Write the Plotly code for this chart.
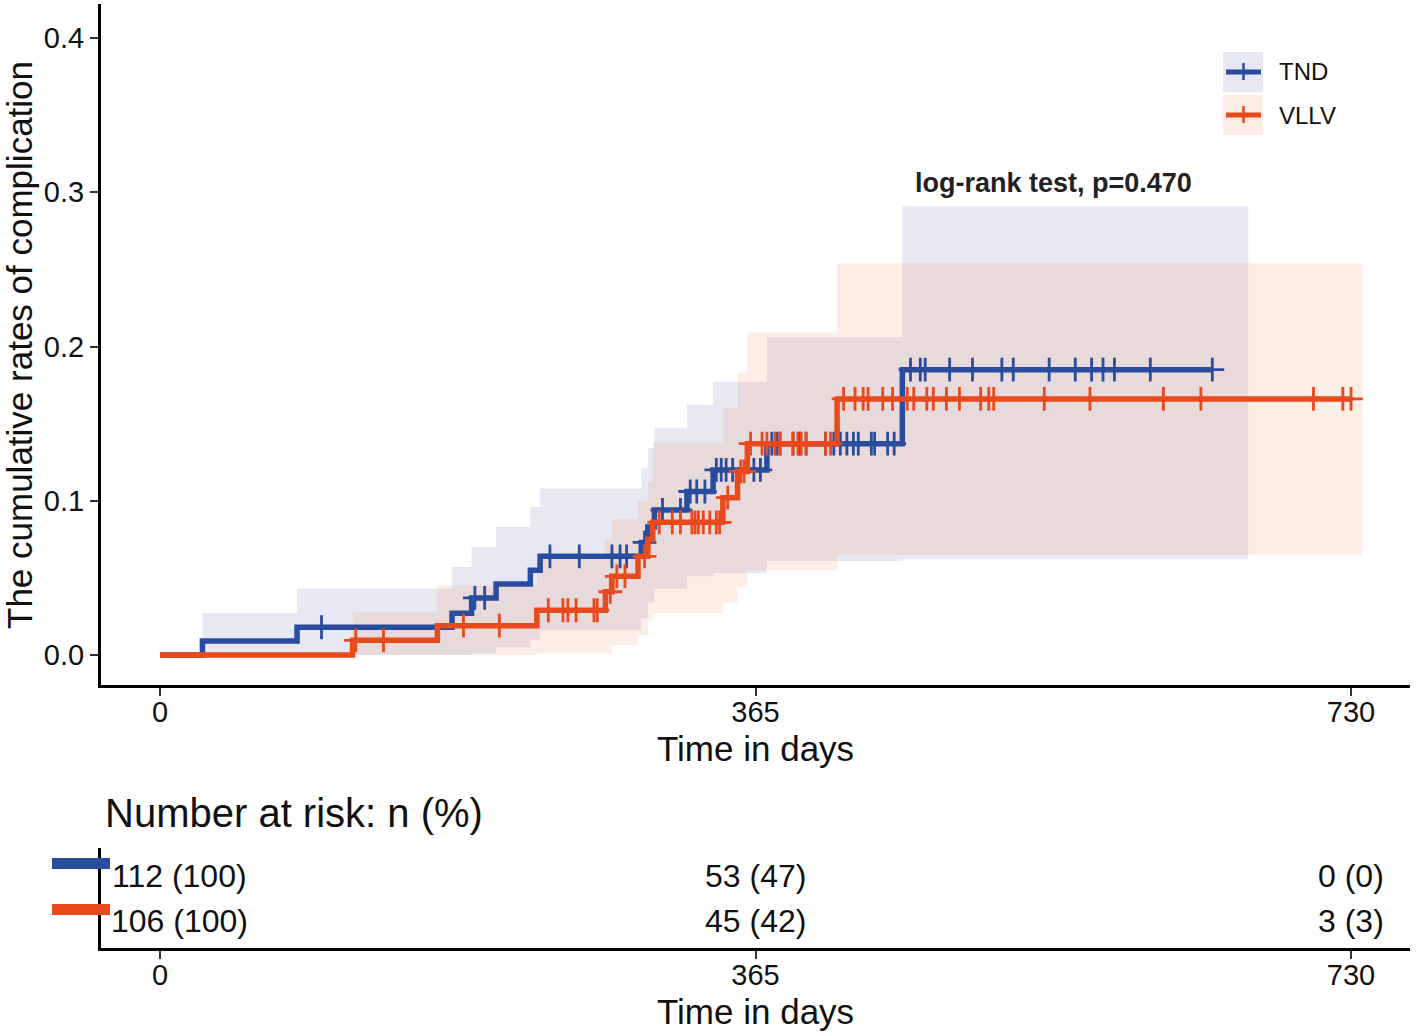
import numpy as np
import plotly.graph_objects as go

# ---------------- data ----------------
groups = ["TND", "VLLV"]

# Kaplan-Meier cumulative incidence steps (time in days, value)
tnd_t = [0, 26, 84, 179, 191, 206, 227, 233, 295, 299, 303, 323, 339, 372, 455]
tnd_y = [0, 0.009, 0.018, 0.027, 0.037, 0.046, 0.055, 0.064, 0.073, 0.083, 0.094, 0.106, 0.120, 0.137, 0.185]
tnd_end = 645

vllv_t = [0, 118, 170, 231, 273, 277, 293, 299, 302, 345, 354, 360, 415]
vllv_y = [0, 0.0095, 0.019, 0.029, 0.041, 0.051, 0.064, 0.075, 0.086, 0.102, 0.119, 0.137, 0.166]
vllv_end = 730

# censoring times
tnd_cens = [99, 193, 199, 239, 257, 277, 282, 286, 297, 308, 319, 325, 329, 334,
            341, 344, 347, 351, 364, 368,
            375, 378, 380, 388, 392, 396, 408, 413, 417, 421, 425, 428, 436, 438, 446, 450,
            460, 466, 469, 484, 498, 516, 523, 545, 561, 571, 578, 585, 607, 645]
vllv_cens = [120, 137, 186, 208, 238, 247, 250, 255, 266, 268, 276, 280, 285, 297,
             306, 314, 319, 326, 328, 330, 333, 337, 341, 343, 348, 356, 358,
             362, 369, 372, 377, 380, 388, 391, 393, 396, 408, 411,
             419, 426, 431, 434, 443, 449, 458, 462, 470, 474, 482, 490, 503, 508, 511,
             542, 570, 615, 638, 707, 725, 730]

# confidence bands (step starts, lower, upper)
tnd_band_t = [26, 84, 179, 191, 206, 227, 233, 295, 299, 303, 323, 339, 372, 455, 667]
tnd_band_lo = [0.0, 0.0, 0.0, 0.001, 0.005, 0.010, 0.016, 0.024, 0.034, 0.043, 0.051, 0.053, 0.061, 0.062, 0.062]
tnd_band_hi = [0.027, 0.043, 0.057, 0.070, 0.083, 0.096, 0.108, 0.121, 0.134, 0.147, 0.162, 0.177, 0.206, 0.291, 0.291]

vllv_band_t = [118, 170, 231, 273, 277, 293, 299, 302, 345, 354, 360, 415, 737]
vllv_band_lo = [0.0, 0.0, 0.001, 0.001, 0.0065, 0.013, 0.023, 0.027, 0.034, 0.044, 0.055, 0.065, 0.065]
vllv_band_hi = [0.028, 0.045, 0.062, 0.075, 0.088, 0.100, 0.112, 0.138, 0.160, 0.183, 0.209, 0.254, 0.254]

# number at risk table
risk_times = [0, 365, 730]
tnd_risk = ["112 (100)", "53 (47)", "0 (0)"]
vllv_risk = ["106 (100)", "45 (42)", "3 (3)"]

x_ticks = [0, 365, 730]
y_ticks = [0.0, 0.1, 0.2, 0.3, 0.4]
y_ticktext = ["0.0", "0.1", "0.2", "0.3", "0.4"]
p_text = "log-rank test, p=0.470"

# ---------------- style ----------------
W, H = 1417, 1036
BLUE = "#2A4C9E"
RED = "#E8491D"
BLUE_FILL = "rgba(25,25,145,0.10)"
RED_FILL = "rgba(235,85,0,0.10)"
FONT = "Liberation Sans, Arial, sans-serif"

def px_x(p):
    return p / W

def px_y(p):
    return 1 - p / H

def step_at(ts, ys, t):
    i = np.searchsorted(np.asarray(ts), t, side="right") - 1
    return np.asarray(ys)[i]

fig = go.Figure()

# bands
for bt, lo, hi, col in [(tnd_band_t, tnd_band_lo, tnd_band_hi, BLUE_FILL),
                        (vllv_band_t, vllv_band_lo, vllv_band_hi, RED_FILL)]:
    fig.add_trace(go.Scatter(x=bt, y=lo, mode="lines", line=dict(width=0, shape="hv"),
                             hoverinfo="skip", showlegend=False, xaxis="x", yaxis="y"))
    fig.add_trace(go.Scatter(x=bt, y=hi, mode="lines", line=dict(width=0, shape="hv"),
                             fill="tonexty", fillcolor=col, hoverinfo="skip",
                             showlegend=False, xaxis="x", yaxis="y"))

# curves + censor marks
for name, ts, ys, tend, cens, col in [("TND", tnd_t, tnd_y, tnd_end, tnd_cens, BLUE),
                                       ("VLLV", vllv_t, vllv_y, vllv_end, vllv_cens, RED)]:
    fig.add_trace(go.Scatter(x=list(ts) + [tend], y=list(ys) + [ys[-1]], mode="lines",
                             line=dict(color=col, width=5.5, shape="hv"), name=name,
                             showlegend=False, xaxis="x", yaxis="y"))
    cy = [float(step_at(ts, ys, c)) for c in cens]
    fig.add_trace(go.Scatter(x=cens, y=cy, mode="markers",
                             marker=dict(symbol="cross-thin", size=17, color=col,
                                         line=dict(color=col, width=2.8)),
                             showlegend=False, xaxis="x", yaxis="y"))

# risk table texts
for yv, labels, in [(2, tnd_risk), (1, vllv_risk)]:
    for t, lab in zip(risk_times, labels):
        fig.add_annotation(x=t, y=yv, xref="x2", yref="y2", text=lab, showarrow=False,
                           xanchor="center", yanchor="middle",
                           xshift=19 if t == 0 else 0,
                           font=dict(family=FONT, size=32, color="#111"))
# invisible trace to make subplot 2 exist
fig.add_trace(go.Scatter(x=risk_times, y=[2, 2, 2], mode="markers", marker=dict(opacity=0),
                         hoverinfo="skip", showlegend=False, xaxis="x2", yaxis="y2"))

xr = [(101 - 160) / (595.5 / 365), (1410 - 160) / (595.5 / 365)]
yr = [(655 - 685) / 1542.5, (655 - 4) / 1542.5]
dom_x = [px_x(101), px_x(1410)]

axis_common = dict(showline=True, linewidth=3, linecolor="black", ticks="outside",
                   ticklen=8, tickwidth=2, tickcolor="#333", showgrid=False, zeroline=False,
                   tickfont=dict(family=FONT, size=29, color="#111"))

fig.update_layout(
    width=W, height=H, autosize=False,
    margin=dict(l=0, r=0, t=0, b=0),
    paper_bgcolor="white", plot_bgcolor="white",
    showlegend=False,
    xaxis=dict(domain=dom_x, range=xr, tickvals=x_ticks, anchor="y",
               ticklabelstandoff=-9, **axis_common),
    yaxis=dict(domain=[px_y(685), px_y(4)], range=yr, tickvals=y_ticks, ticktext=y_ticktext,
               anchor="x", **axis_common),
    xaxis2=dict(domain=dom_x, range=xr, tickvals=x_ticks, anchor="y2",
                ticklabelstandoff=-9, **axis_common),
    yaxis2=dict(domain=[px_y(948), px_y(848)], range=[0.4, 2.622], anchor="x2",
                showline=True, linewidth=3, linecolor="black", ticks="", showticklabels=False,
                showgrid=False, zeroline=False),
)

def note(x, y, text, size, xanchor="center", angle=0, color="#111"):
    fig.add_annotation(x=px_x(x), y=px_y(y), xref="paper", yref="paper", text=text,
                       xanchor=xanchor, yanchor="middle", textangle=angle, showarrow=False,
                       font=dict(family=FONT, size=size, color=color))

# axis titles and texts
note(755, 748, "Time in days", 35)
note(755, 1011, "Time in days", 35)
note(20, 345, "The cumulative rates of complication", 35, angle=-90)
note(103, 813, "Number at risk: n (%)", 40, xanchor="left")
note(913, 183, "<b>" + p_text + "</b>", 27, xanchor="left", color="#222")

# risk table colour keys
for yc, col in [(863.5, BLUE), (909.5, RED)]:
    fig.add_shape(type="rect", xref="paper", yref="paper", x0=px_x(52), x1=px_x(110),
                  y0=px_y(yc - 5.5), y1=px_y(yc + 5.5), fillcolor=col, line=dict(width=0))

# custom legend
for i, (name, col, fcol) in enumerate([(groups[0], BLUE, BLUE_FILL), (groups[1], RED, RED_FILL)]):
    top = 52 + i * 43
    cy = top + 20
    fig.add_shape(type="rect", xref="paper", yref="paper", x0=px_x(1223), x1=px_x(1263),
                  y0=px_y(top + 40), y1=px_y(top), fillcolor=fcol, line=dict(width=0))
    fig.add_shape(type="line", xref="paper", yref="paper", x0=px_x(1226), x1=px_x(1261),
                  y0=px_y(cy), y1=px_y(cy), line=dict(color=col, width=5))
    fig.add_shape(type="line", xref="paper", yref="paper", x0=px_x(1243.5), x1=px_x(1243.5),
                  y0=px_y(cy - 9), y1=px_y(cy + 8), line=dict(color=col, width=2.5))
    note(1277, cy, name, 24, xanchor="left")

fig.write_html("out.html", config={"displayModeBar": False},
               post_script="document.body.style.margin='0px';")
